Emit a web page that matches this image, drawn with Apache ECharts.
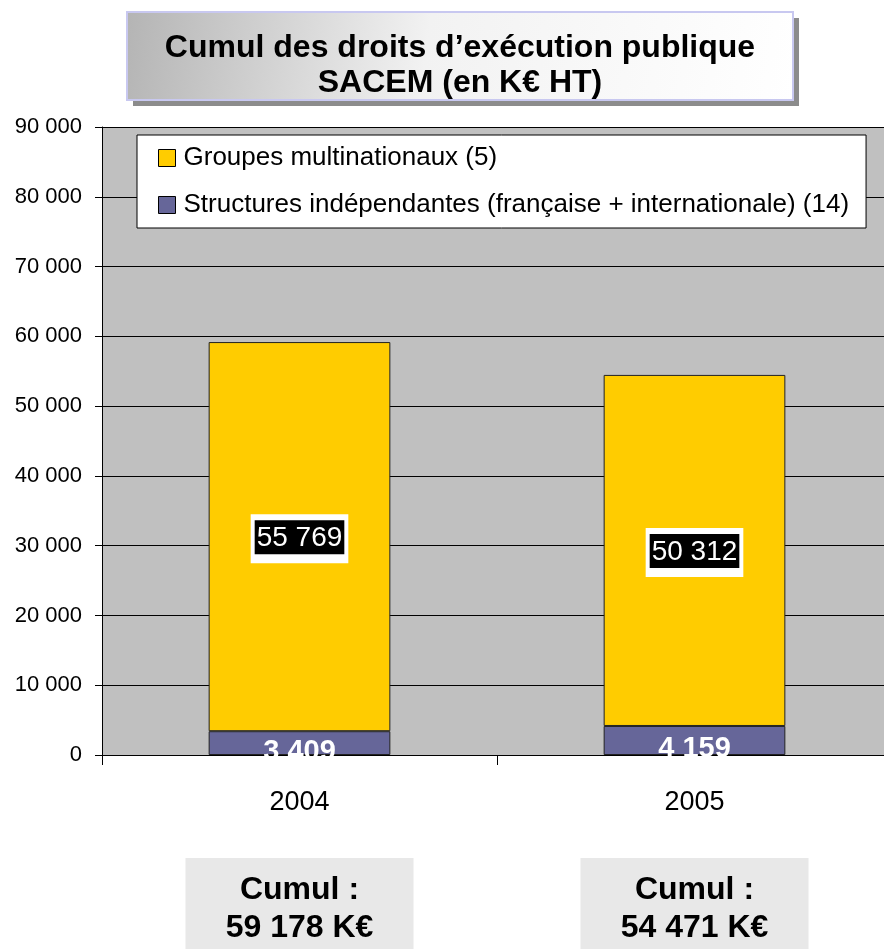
<!DOCTYPE html>
<html>
<head>
<meta charset="utf-8">
<script src="https://cdn.jsdelivr.net/npm/echarts@6/dist/echarts.min.js"></script>
<style>
  html, body { margin: 0; padding: 0; background: #fff; overflow: hidden; }
  /* the plot runs a few pixels past the right edge in the original */
  #chart { width: 892px; height: 949px; }
</style>
</head>
<body>
<div id="chart"></div>
<script>
// Values (K€ HT)
const categories = ["2004", "2005"];
const independants = [3409, 4159];
const multinationaux = [55769, 50312];
const seriesNames = [
  "Groupes multinationaux (5)",
  "Structures indépendantes (française + internationale) (14)"
];
const titleLines = ["Cumul des droits d’exécution publique", "SACEM (en K€ HT)"];

const FONT = "'Liberation Sans', Arial, sans-serif";

// 59178 -> "59 178"
function fmt(n) {
  return String(n).replace(/\B(?=(\d{3})+(?!\d))/g, " ");
}

const totals = categories.map((_, i) => independants[i] + multinationaux[i]);

const chart = echarts.init(document.getElementById("chart"), null, { renderer: "canvas" });

const option = {
  animation: false,
  backgroundColor: "#fff",
  textStyle: { fontFamily: FONT },
  grid: {
    left: 102,
    right: 0,
    top: 127,
    bottom: 194,
    show: true,
    backgroundColor: "#c0c0c0",
    borderWidth: 0,
    containLabel: false
  },
  legend: {
    orient: "vertical",
    left: 137,
    top: 135,
    data: seriesNames,
    icon: "rect",
    itemWidth: 17,
    itemHeight: 17,
    itemGap: 21,
    padding: [10, 17, 10, 21],
    backgroundColor: "#fff",
    borderColor: "#000",
    borderWidth: 1,
    textStyle: { fontSize: 26, color: "#000", fontFamily: FONT, padding: [0, 0, 0, 3] },
    itemStyle: { borderColor: "#000", borderWidth: 1 }
  },
  xAxis: {
    type: "category",
    data: categories,
    axisLine: { lineStyle: { color: "#000", width: 1 } },
    axisTick: { show: true, length: 10, lineStyle: { color: "#000" } },
    axisLabel: { color: "#000", fontSize: 27, margin: 34, fontFamily: FONT },
    splitLine: { show: false }
  },
  yAxis: {
    type: "value",
    min: 0,
    max: 90000,
    interval: 10000,
    axisLine: { show: true, lineStyle: { color: "#000", width: 1 } },
    axisTick: { show: true, length: 7, lineStyle: { color: "#000" } },
    axisLabel: { color: "#000", fontSize: 22, margin: 20, fontFamily: FONT, formatter: (v) => fmt(v) },
    splitLine: { show: true, lineStyle: { color: "#000", width: 1 } }
  },
  series: [
    {
      name: seriesNames[1],
      type: "bar",
      stack: "total",
      barWidth: "46%",
      data: independants,
      itemStyle: { color: "#666699", borderColor: "#222", borderWidth: 1 },
      label: {
        show: true,
        position: "inside",
        offset: [0, 9],
        color: "#fff",
        fontSize: 29,
        fontWeight: "bold",
        fontFamily: FONT,
        formatter: (p) => fmt(p.value)
      }
    },
    {
      name: seriesNames[0],
      type: "bar",
      stack: "total",
      barWidth: "46%",
      data: multinationaux,
      itemStyle: { color: "#ffcc00", borderColor: "#222", borderWidth: 1 },
      label: {
        show: true,
        position: "inside",
        offset: [0, 2],
        backgroundColor: "#fff",
        padding: [6, 4, 9, 4],
        formatter: (p) => "{v|" + fmt(p.value) + "}",
        rich: {
          v: {
            backgroundColor: "#000",
            color: "#fff",
            fontSize: 28,
            fontFamily: FONT,
            padding: [4, 2, 2, 2]
          }
        }
      }
    }
  ]
};

chart.setOption(option);

// Title box and the per-year "Cumul" boxes, drawn as graphics
const graphics = [
  {
    type: "rect",
    shape: { x: 133, y: 18, width: 666, height: 88 },
    style: { fill: "#8c8c8c" },
    z: 10
  },
  {
    type: "rect",
    shape: { x: 127, y: 12, width: 666, height: 88 },
    style: {
      fill: new echarts.graphic.LinearGradient(0, 0, 1, 1, [
        { offset: 0, color: "#b4b4b4" },
        { offset: 0.45, color: "#f2f2f2" },
        { offset: 1, color: "#ffffff" }
      ]),
      stroke: "#c8c8f0",
      lineWidth: 2
    },
    z: 11
  },
  {
    type: "text",
    x: 460,
    y: 66,
    style: {
      text: titleLines.join("\n"),
      fill: "#000",
      font: "bold 32px " + FONT,
      lineHeight: 35,
      align: "center",
      verticalAlign: "middle"
    },
    z: 12
  }
];

categories.forEach((c, i) => {
  const cx = chart.convertToPixel({ xAxisIndex: 0 }, c);
  graphics.push({
    type: "rect",
    shape: { x: cx - 114, y: 858, width: 228, height: 91 },
    style: { fill: "#e8e8e8" },
    z: 10
  });
  graphics.push({
    type: "text",
    x: cx,
    y: 909,
    style: {
      text: "Cumul :\n" + fmt(totals[i]) + " K€",
      fill: "#000",
      font: "bold 32px " + FONT,
      lineHeight: 38,
      align: "center",
      verticalAlign: "middle"
    },
    z: 11
  });
});

chart.setOption({ graphic: graphics });
</script>
</body>
</html>
